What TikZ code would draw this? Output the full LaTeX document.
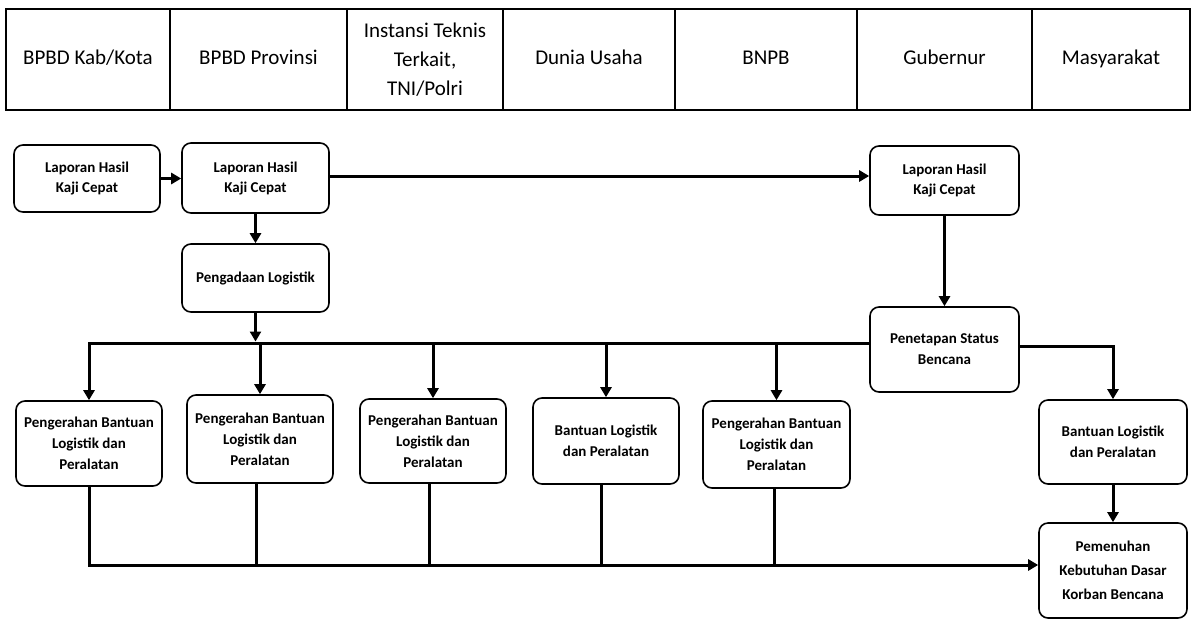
\documentclass[tikz,border=0pt]{standalone}
\usepackage{fontspec}
\setmainfont{Carlito}
\usetikzlibrary{arrows.meta}
\begin{document}
\begin{tikzpicture}[x=1pt,y=-1pt,
  box/.style={draw, line width=1.6pt, rounded corners=9pt, align=center, inner sep=0pt, font=\fontsize{15}{21}\selectfont\bfseries},
  smallbox/.style={box, font=\fontsize{15}{20}\selectfont\bfseries},
  hcell/.style={draw, line width=1.3pt, align=center, inner sep=0pt, font=\fontsize{21}{29}\selectfont},
  hone/.style={hcell, text height=14pt, text depth=5pt},
  conn/.style={line width=3pt},
  arr/.style={conn, -{Triangle[length=10pt,width=11pt]}},
]
\useasboundingbox[fill=white] (0,0) rectangle (1201,627);

% header
\node[hone, minimum width=164pt, minimum height=101pt] (h1) at (88,59.5) {BPBD Kab/Kota};
\node[hone, minimum width=177pt, minimum height=101pt] (h2) at (258.5,59.5) {BPBD Provinsi};
\node[hcell, minimum width=156pt, minimum height=101pt] (h3) at (425,59.5) {Instansi Teknis\\Terkait,\\TNI/Polri};
\node[hone, minimum width=172pt, minimum height=101pt] (h4) at (589,59.5) {Dunia Usaha};
\node[hone, minimum width=182pt, minimum height=101pt] (h5) at (766,59.5) {BNPB};
\node[hone, minimum width=175pt, minimum height=101pt] (h6) at (944.5,59.5) {Gubernur};
\node[hone, minimum width=158pt, minimum height=101pt] (h7) at (1111,59.5) {Masyarakat};

% boxes
\node[smallbox, minimum width=146pt, minimum height=67pt] (L1) at (87,178.5) {Laporan Hasil\\Kaji Cepat};
\node[smallbox, minimum width=147pt, minimum height=70pt] (L2) at (255.5,178) {Laporan Hasil\\Kaji Cepat};
\node[smallbox, minimum width=149pt, minimum height=69pt] (L3) at (944.5,180.5) {Laporan Hasil\\Kaji Cepat};
\node[smallbox, minimum width=147pt, minimum height=68pt] (P) at (255.5,278) {Pengadaan Logistik};
\node[box, minimum width=149pt, minimum height=85pt] (Pen) at (944.5,349.5) {Penetapan Status\\Bencana};
\node[box, minimum width=146pt, minimum height=85pt] (B1) at (89,443.5) {Pengerahan Bantuan\\Logistik dan\\Peralatan};
\node[box, minimum width=146pt, minimum height=88pt] (B2) at (260,439) {Pengerahan Bantuan\\Logistik dan\\Peralatan};
\node[box, minimum width=146pt, minimum height=84pt] (B3) at (433,441) {Pengerahan Bantuan\\Logistik dan\\Peralatan};
\node[box, minimum width=146pt, minimum height=86pt] (B4) at (606,441) {Bantuan Logistik\\dan Peralatan};
\node[box, minimum width=147pt, minimum height=87pt] (B5) at (776.5,444.5) {Pengerahan Bantuan\\Logistik dan\\Peralatan};
\node[box, minimum width=148pt, minimum height=84pt] (B6) at (1113,442) {Bantuan Logistik\\dan Peralatan};
\node[box, minimum width=148pt, minimum height=95pt, font=\fontsize{15}{24}\selectfont\bfseries] (Pem) at (1113,570.5) {Pemenuhan\\Kebutuhan Dasar\\Korban Bencana};

% coordinates
\coordinate (busL) at (89,343);
\coordinate (busB) at (89,565);

% connectors
\draw[arr] (L1.east) -- (L1.east -| L2.west);
\draw[arr] ([yshift=2pt]L2.east) -- ([yshift=2pt]L2.east -| L3.west);
\draw[arr] (L2.south) -- (P.north);
\draw[arr] (L3.south) -- (Pen.north);
\draw[arr, shorten >=1.5pt] (P.south) -- (P.south |- busL);
\draw[arr] (Pen.west |- busL) -- (busL) -- (B1.north);
\draw[arr] (B2.north |- busL) -- (B2.north);
\draw[arr] (B3.north |- busL) -- (B3.north);
\draw[arr] (B4.north |- busL) -- (B4.north);
\draw[arr] (B5.north |- busL) -- (B5.north);
\draw[arr] ([yshift=3pt]Pen.east) -- ([yshift=3pt]Pen.east -| B6.north) -- (B6.north);
\draw[arr] (B6.south) -- (Pem.north);
\draw[arr] (B1.south) -- (busB) -- (busB -| Pem.west);
\draw[conn] ([xshift=-4pt]B2.south) -- ([xshift=-4pt]B2.south |- busB);
\draw[conn] ([xshift=-4pt]B3.south) -- ([xshift=-4pt]B3.south |- busB);
\draw[conn] ([xshift=-5pt]B4.south) -- ([xshift=-5pt]B4.south |- busB);
\draw[conn] ([xshift=-2pt]B5.south) -- ([xshift=-2pt]B5.south |- busB);
\end{tikzpicture}
\end{document}
